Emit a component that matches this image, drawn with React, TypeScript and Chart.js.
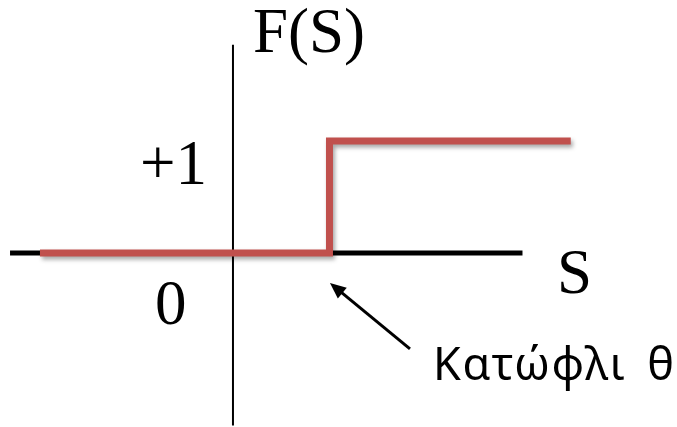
import React, { useEffect, useRef } from "react";
import { Chart, registerables } from "chart.js";

Chart.register(...registerables);

// Step (threshold) function F(S): 0 below θ, +1 above θ
const THETA = 1;
const stepX = [-2, THETA, THETA, 3.5];
const stepY = [0, 0, 1, 1];

// Axes drawn as lines
const sAxisX = [-2.31, 3.0];
const sAxisY = [0, 0];
const fAxisX = [0, 0];
const fAxisY = [-1.54, 1.86];

// Text labels [text, x, y]
const labelTexts = ["F(S)", "+1", "0", "S"];
const labelXs = [0.207, -0.964, -0.808, 3.358];
const labelYs = [1.795, 0.616, -0.634, -0.357];

const thresholdLabel = "Κατώφλι θ";
const thresholdLabelPos = [2.073, -1.134];
const arrowTail = [1.834, -0.857];
const arrowTip = [1.005, -0.268];

const X_MIN = -2.414;
const X_MAX = 4.601;
const Y_MIN = -1.554;
const Y_MAX = 2.259;

const RED = "#c0504d";

const annotationPlugin = {
  id: "annotations",
  beforeDatasetDraw(chart: any, args: any) {
    if (args.index === 0) {
      const ctx = chart.ctx;
      ctx.save();
      ctx.shadowColor = "rgba(0,0,0,0.35)";
      ctx.shadowBlur = 4;
      ctx.shadowOffsetX = 2;
      ctx.shadowOffsetY = 3;
    }
  },
  afterDatasetDraw(chart: any, args: any) {
    if (args.index === 0) {
      chart.ctx.restore();
    }
  },
  afterDraw(chart: any) {
    const ctx = chart.ctx;
    const xs = chart.scales.x;
    const ys = chart.scales.y;
    ctx.save();
    ctx.fillStyle = "#000";
    ctx.textBaseline = "alphabetic";
    ctx.textAlign = "left";
    ctx.font = '63px "Liberation Serif", "Times New Roman", serif';
    labelTexts.forEach((t, i) => {
      ctx.fillText(t, xs.getPixelForValue(labelXs[i]), ys.getPixelForValue(labelYs[i]));
    });
    ctx.font = '45px "Noto Sans", sans-serif';
    try {
      (ctx as any).letterSpacing = "1.5px";
      (ctx as any).wordSpacing = "8px";
    } catch (e) {}
    ctx.fillText(
      thresholdLabel,
      xs.getPixelForValue(thresholdLabelPos[0]),
      ys.getPixelForValue(thresholdLabelPos[1])
    );
    try {
      (ctx as any).letterSpacing = "0px";
      (ctx as any).wordSpacing = "0px";
    } catch (e) {}
    // arrow
    const x1 = xs.getPixelForValue(arrowTail[0]);
    const y1 = ys.getPixelForValue(arrowTail[1]);
    const x2 = xs.getPixelForValue(arrowTip[0]);
    const y2 = ys.getPixelForValue(arrowTip[1]);
    const ang = Math.atan2(y2 - y1, x2 - x1);
    const headLen = 16;
    const headW = 7;
    const bx = x2 - headLen * Math.cos(ang);
    const by = y2 - headLen * Math.sin(ang);
    ctx.strokeStyle = "#000";
    ctx.lineWidth = 3;
    ctx.beginPath();
    ctx.moveTo(x1, y1);
    ctx.lineTo(bx + 2 * Math.cos(ang), by + 2 * Math.sin(ang));
    ctx.stroke();
    ctx.beginPath();
    ctx.moveTo(x2, y2);
    ctx.lineTo(bx + headW * Math.sin(ang), by - headW * Math.cos(ang));
    ctx.lineTo(bx - headW * Math.sin(ang), by + headW * Math.cos(ang));
    ctx.closePath();
    ctx.fill();
    ctx.restore();
  },
};

export default function App() {
  const ref = useRef<HTMLCanvasElement | null>(null);
  useEffect(() => {
    if (!ref.current) return;
    const toPts = (xa: number[], ya: number[]) => xa.map((x, i) => ({ x, y: ya[i] }));
    const chart = new Chart(ref.current, {
      type: "scatter",
      data: {
        datasets: [
          {
            data: toPts(stepX, stepY),
            showLine: true,
            borderColor: RED,
            borderWidth: 7,
            pointRadius: 0,
            borderJoinStyle: "miter",
            borderCapStyle: "butt",
            order: 0,
          } as any,
          {
            data: toPts(sAxisX, sAxisY),
            showLine: true,
            borderColor: "#000",
            borderWidth: 5,
            pointRadius: 0,
            order: 1,
          } as any,
          {
            data: toPts(fAxisX, fAxisY),
            showLine: true,
            borderColor: "#000",
            borderWidth: 2,
            pointRadius: 0,
            order: 2,
          } as any,
        ],
      },
      options: {
        animation: false,
        responsive: false,
        maintainAspectRatio: false,
        layout: { padding: 0 },
        plugins: { legend: { display: false }, tooltip: { enabled: false } },
        scales: {
          x: { type: "linear", display: false, min: X_MIN, max: X_MAX },
          y: { type: "linear", display: false, min: Y_MIN, max: Y_MAX },
        },
      },
      plugins: [annotationPlugin],
    });
    return () => chart.destroy();
  }, []);
  return (
    <div style={{ position: "fixed", left: 0, top: 0, width: 677, height: 427, background: "#fff" }}>
      <canvas ref={ref} width={677} height={427} style={{ display: "block" }} />
    </div>
  );
}
